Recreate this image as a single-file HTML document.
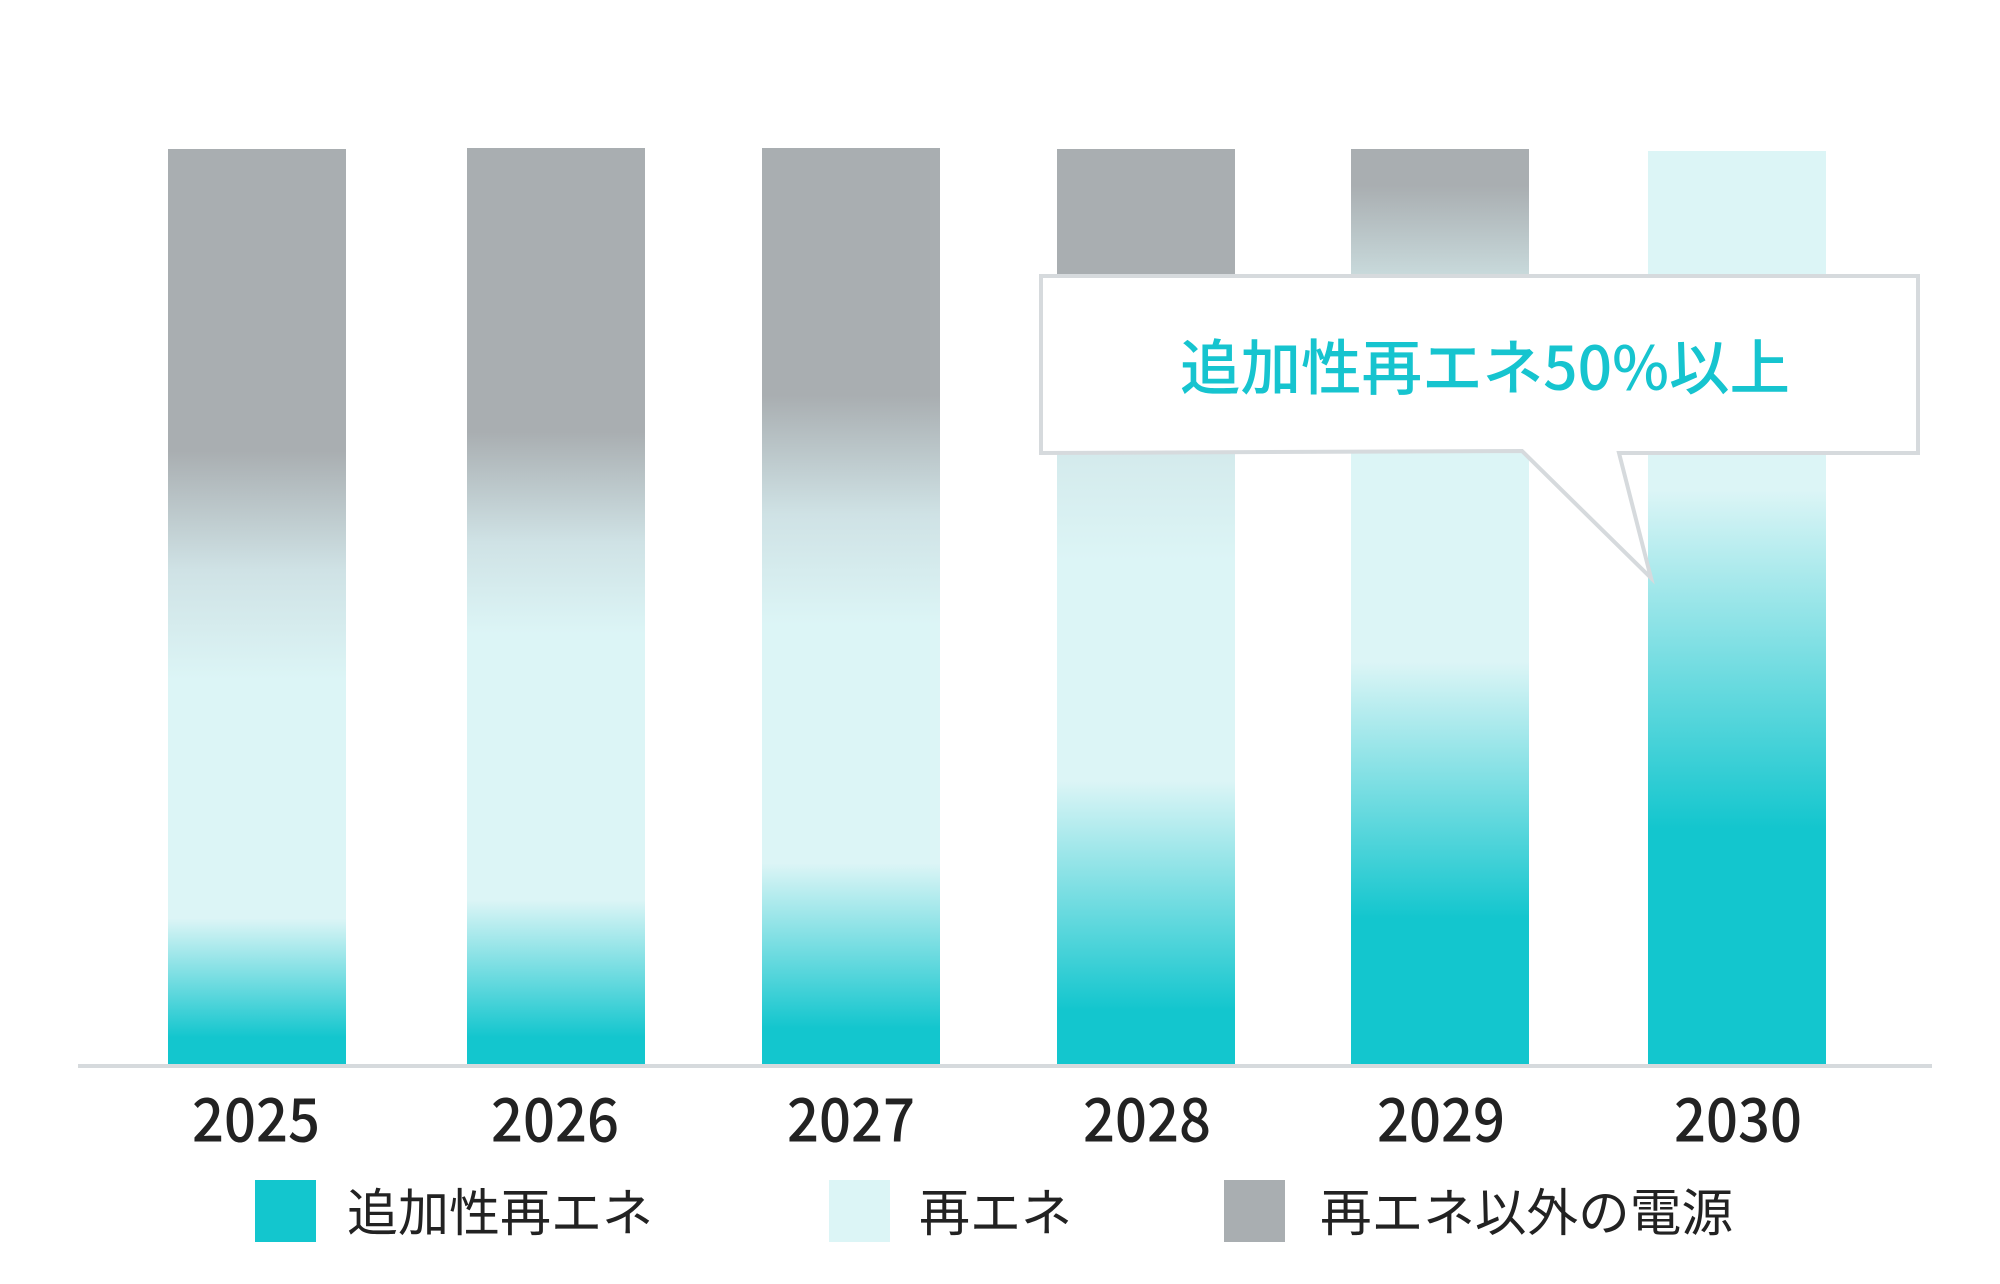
<!DOCTYPE html>
<html><head><meta charset="utf-8"><style>
html,body{margin:0;padding:0;background:#fff;width:2000px;height:1284px;overflow:hidden}
text{font-family:"Liberation Sans","Noto Sans CJK JP",sans-serif}
.cjk{font-family:"Noto Sans CJK JP",sans-serif}
</style></head><body>
<svg width="2000" height="1284" viewBox="0 0 2000 1284" xmlns="http://www.w3.org/2000/svg">
<defs>
<linearGradient id="g1" x1="0" y1="0" x2="0" y2="1">
<stop offset="0" stop-color="#a9aeb1"/><stop offset="0.33" stop-color="#a9aeb1"/><stop offset="0.46" stop-color="#cfe2e5"/><stop offset="0.58" stop-color="#dcf5f6"/><stop offset="0.84" stop-color="#dcf5f6"/><stop offset="0.97" stop-color="#13c6ce"/><stop offset="1" stop-color="#13c6ce"/></linearGradient>
<linearGradient id="g2" x1="0" y1="0" x2="0" y2="1">
<stop offset="0" stop-color="#a9aeb1"/><stop offset="0.31" stop-color="#a9aeb1"/><stop offset="0.43" stop-color="#cfe2e5"/><stop offset="0.53" stop-color="#dcf5f6"/><stop offset="0.82" stop-color="#dcf5f6"/><stop offset="0.97" stop-color="#13c6ce"/><stop offset="1" stop-color="#13c6ce"/></linearGradient>
<linearGradient id="g3" x1="0" y1="0" x2="0" y2="1">
<stop offset="0" stop-color="#a9aeb1"/><stop offset="0.27" stop-color="#a9aeb1"/><stop offset="0.40" stop-color="#cfe2e5"/><stop offset="0.52" stop-color="#dcf5f6"/><stop offset="0.78" stop-color="#dcf5f6"/><stop offset="0.96" stop-color="#13c6ce"/><stop offset="1" stop-color="#13c6ce"/></linearGradient>
<linearGradient id="g4" x1="0" y1="0" x2="0" y2="1">
<stop offset="0" stop-color="#a9aeb1"/><stop offset="0.14" stop-color="#a9aeb1"/><stop offset="0.32" stop-color="#d3e9eb"/><stop offset="0.45" stop-color="#dcf5f6"/><stop offset="0.69" stop-color="#dcf5f6"/><stop offset="0.94" stop-color="#13c6ce"/><stop offset="1" stop-color="#13c6ce"/></linearGradient>
<linearGradient id="g5" x1="0" y1="0" x2="0" y2="1">
<stop offset="0" stop-color="#a9aeb1"/><stop offset="0.04" stop-color="#a9aeb1"/><stop offset="0.20" stop-color="#dcf5f6"/><stop offset="0.56" stop-color="#dcf5f6"/><stop offset="0.84" stop-color="#13c6ce"/><stop offset="1" stop-color="#13c6ce"/></linearGradient>
<linearGradient id="g6" x1="0" y1="0" x2="0" y2="1">
<stop offset="0" stop-color="#dcf5f6"/><stop offset="0.37" stop-color="#dcf5f6"/><stop offset="0.74" stop-color="#13c6ce"/><stop offset="1" stop-color="#13c6ce"/></linearGradient>
</defs>
<rect x="168" y="149" width="178" height="916" fill="url(#g1)"/>
<rect x="467" y="148" width="178" height="917" fill="url(#g2)"/>
<rect x="762" y="148" width="178" height="917" fill="url(#g3)"/>
<rect x="1057" y="149" width="178" height="916" fill="url(#g4)"/>
<rect x="1351" y="149" width="178" height="916" fill="url(#g5)"/>
<rect x="1648" y="151" width="178" height="916" fill="url(#g6)"/>
<rect x="78" y="1064" width="1854" height="4" fill="#d6dadd"/>
<g class="cjk" font-size="60" fill="#222" text-anchor="middle" dominant-baseline="central" font-weight="500">
<text class="cjk" x="256" y="1116" textLength="128" lengthAdjust="spacingAndGlyphs">2025</text>
<text class="cjk" x="555" y="1116" textLength="128" lengthAdjust="spacingAndGlyphs">2026</text>
<text class="cjk" x="851" y="1116" textLength="128" lengthAdjust="spacingAndGlyphs">2027</text>
<text class="cjk" x="1147" y="1116" textLength="128" lengthAdjust="spacingAndGlyphs">2028</text>
<text class="cjk" x="1441" y="1116" textLength="128" lengthAdjust="spacingAndGlyphs">2029</text>
<text class="cjk" x="1738" y="1116" textLength="128" lengthAdjust="spacingAndGlyphs">2030</text>
</g>
<path d="M1041 276 L1918 276 L1918 453 L1619 453 L1651 578 L1522 451 L1041 453 Z" fill="#fff" stroke="#d6dadd" stroke-width="4"/>
<text class="cjk" x="1180" y="364" font-size="60" fill="#16c4cf" dominant-baseline="central" textLength="610" lengthAdjust="spacingAndGlyphs" font-weight="500">追加性再エネ50%以上</text>
<rect x="255" y="1180" width="61" height="62" fill="#13c6ce"/>
<rect x="829" y="1180" width="61" height="62" fill="#dcf5f6"/>
<rect x="1224" y="1180" width="61" height="62" fill="#a9aeb1"/>
<g font-size="51" fill="#222" dominant-baseline="central">
<text class="cjk" x="347" y="1209" textLength="306" lengthAdjust="spacingAndGlyphs">追加性再エネ</text>
<text class="cjk" x="919" y="1209" textLength="153" lengthAdjust="spacingAndGlyphs">再エネ</text>
<text class="cjk" x="1320" y="1209" textLength="413" lengthAdjust="spacingAndGlyphs">再エネ以外の電源</text>
</g>
</svg>
</body></html>
